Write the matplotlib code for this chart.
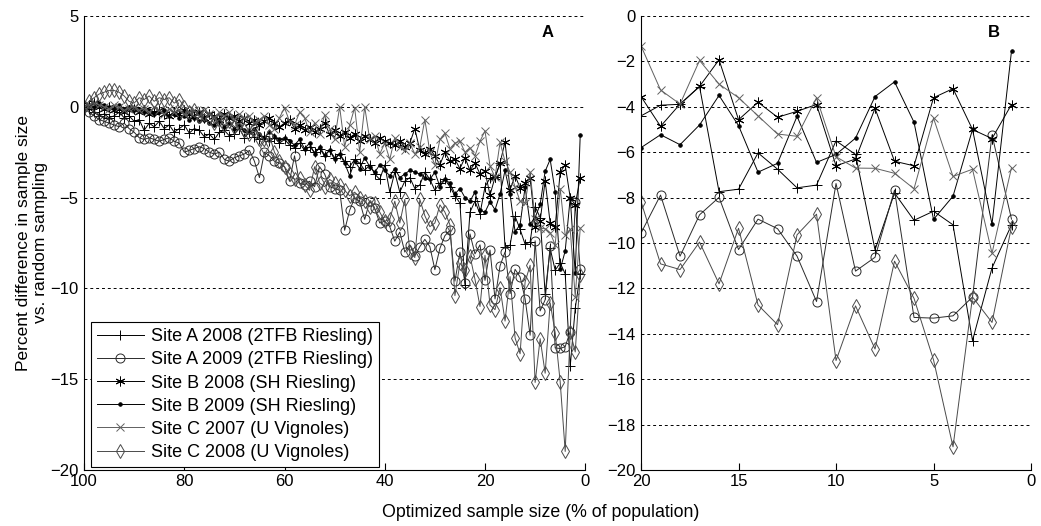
import numpy as np
import matplotlib.pyplot as plt

plt.rcParams['font.family'] = ['Liberation Sans', 'DejaVu Sans']

# optimized sample size (% of population)
size_wide = np.arange(100, 20, -1)   # 100 .. 21
size_zoom = np.arange(20, 0, -1)     # 20 .. 1

labels = ['Site A 2008 (2TFB Riesling)', 'Site A 2009 (2TFB Riesling)',
          'Site B 2008 (SH Riesling)', 'Site B 2009 (SH Riesling)',
          'Site C 2007 (U Vignoles)', 'Site C 2008 (U Vignoles)']

# percent difference vs. random sampling, sample sizes 100..21
a2008_wide = [0, -0.1, -0.3, -0.5, -0.4, -0.6, -0.5, -0.3, -0.6, -0.5,
              -0.8, -0.7, -1.3, -0.9, -1.1, -0.8, -1.2, -1.0, -1.4, -1.2,
              -1.0, -1.45, -1.2, -1.3, -1.65, -1.5, -1.8, -1.4, -1.3, -1.6,
              -1.5, -1.2, -1.7, -1.4, -1.65, -1.8, -1.6, -1.9, -1.7, -2.0,
              -1.8, -2.1, -2.25, -2.0, -2.4, -2.2, -2.5, -2.3, -2.7, -2.4,
              -2.8, -2.6, -3.0, -3.3, -2.9, -3.1, -3.5, -3.2, -3.7, -4.0,
              -3.2, -4.7, -3.6, -4.7, -4.1, -3.9, -4.5, -4.3, -3.6, -4.0,
              -4.6, -4.2, -4.0, -4.4, -4.9, -5.3, -9.8, -5.8, -5.2, -5.9]
a2009_wide = [0, -0.3, -0.5, -0.7, -0.8, -0.9, -1.0, -1.1, -0.9, -1.2,
              -1.4, -1.7, -1.8, -1.7, -1.8, -1.9, -1.8, -1.7, -1.9, -2.0,
              -2.5, -2.4, -2.3, -2.2, -2.3, -2.5, -2.6, -2.5, -2.9, -3.0,
              -2.8, -2.7, -2.6, -2.4, -3.0, -3.9, -2.5, -2.7, -3.0, -3.1,
              -3.3, -4.1, -2.7, -4.2, -4.3, -4.1, -4.4, -3.3, -3.7, -4.4,
              -4.5, -4.6, -6.8, -5.7, -5.0, -5.2, -6.2, -5.2, -5.6, -6.4,
              -6.3, -6.6, -7.4, -6.9, -8.0, -7.6, -8.2, -7.7, -7.3, -7.7,
              -8.97, -7.8, -7.1, -6.8, -9.6, -8.0, -9.7, -7.0, -8.1, -7.6]
b2008_wide = [0, 0.1, 0.2, 0.0, -0.1, 0.0, -0.2, -0.1, -0.3, -0.2,
              -0.1, -0.3, -0.2, -0.4, -0.3, -0.2, -0.4, -0.5, -0.3, -0.4,
              -0.2, -0.4, -0.5, -0.3, -0.6, -0.4, -0.5, -0.7, -0.4, -0.6,
              -0.5, -0.8, -0.6, -0.9, -0.7, -1.0, -0.8, -0.6, -0.9, -1.1,
              -0.9, -0.7, -1.2, -1.0, -1.3, -1.1, -1.4, -1.2, -0.9, -1.5,
              -1.3, -1.6, -1.4, -1.7, -1.5, -1.9, -1.6, -1.8, -2.0, -1.7,
              -1.9, -2.0, -2.1, -1.9, -2.2, -2.0, -1.2, -2.4, -2.6, -2.3,
              -2.7, -3.2, -2.5, -3.0, -2.9, -3.4, -2.8, -3.5, -3.1, -3.7]
b2009_wide = [0, 0.1, 0.0, 0.2, 0.1, 0.0, -0.1, 0.1, -0.1, 0.0,
              -0.2, -0.1, -0.3, -0.2, -0.4, -0.3, -0.2, -0.5, -0.4, -0.6,
              -0.5, -0.7, -0.6, -0.8, -0.7, -0.9, -1.0, -0.8, -1.1, -0.9,
              -1.2, -1.0, -1.3, -1.4, -1.2, -1.5, -1.7, -1.4, -1.6, -1.8,
              -1.7, -1.9, -2.1, -1.8, -2.3, -2.0, -2.6, -2.2, -2.65, -2.4,
              -2.9, -2.6, -3.1, -3.8, -3.0, -3.4, -2.8, -3.3, -3.6, -3.2,
              -3.5, -3.8, -3.4, -3.9, -3.7, -3.5, -3.6, -3.7, -3.9, -4.0,
              -3.6, -4.4, -4.0, -4.2, -4.8, -4.5, -5.0, -5.2, -4.7, -5.7]
c2007_wide = [0, 0.1, 0.2, 0.1, 0.0, -0.1, 0.1, 0.0, -0.2, -0.1,
              0.0, -0.2, -0.1, -0.3, 0.0, -0.2, -0.4, -0.1, -0.3, -0.2,
              -0.4, -0.3, -0.2, -0.5, -0.2, -0.4, -0.6, -0.3, -0.5, -0.3,
              -0.7, -0.4, -0.6, -0.5, -0.9, -0.7, -0.5, -1.0, -1.2, -0.6,
              -0.05, -0.8, -1.0, -0.3, -0.6, -1.4, -0.9, -1.5, -0.45, -1.2,
              -1.8, 0.0, -2.2, -1.0, -0.05, -2.5, 0.0, -1.8, -1.6, -2.6,
              -2.0, -2.9, -1.7, -2.2, -2.4, -2.0, -2.6, -2.2, -0.7, -2.5,
              -3.2, -1.8, -1.45, -2.3, -2.0, -1.9, -2.5, -2.25, -2.7, -1.9]
c2008_wide = [0, 0.3, 0.5, 0.7, 0.8, 0.9, 0.9, 0.8, 0.6, 0.3,
              0.2, 0.5, 0.4, 0.6, 0.3, 0.5, 0.4, 0.5, 0.2, 0.4,
              0.0, -0.3, -0.2, -0.5, -0.4, -0.6, -0.9, -0.7, -1.0, -0.8,
              -1.1, -0.9, -1.3, -1.5, -1.2, -1.8, -2.2, -1.6, -2.5, -3.0,
              -3.3, -3.7, -4.0, -3.9, -4.3, -4.6, -3.3, -4.2, -4.4, -4.0,
              -4.2, -4.3, -4.6, -4.9, -4.7, -5.0, -5.2, -5.5, -5.3, -5.8,
              -6.3, -6.2, -5.2, -6.4, -5.1, -8.0, -8.3, -5.1, -6.0, -6.6,
              -6.4, -5.4, -5.8, -6.5, -10.4, -8.6, -9.0, -8.2, -9.5, -11.0]

# sample sizes 20..1 (shown in both panels)
a2008_zoom = [-4.4, -3.93, -3.89, -3.11, -7.74, -7.63, -6.03, -6.75, -7.57, -7.45,
              -5.5, -6.1, -10.3, -7.8, -9.0, -8.6, -9.2, -14.3, -11.1, -9.2]
a2009_zoom = [-9.56, -7.89, -10.58, -8.76, -7.99, -10.29, -8.95, -9.37, -10.58, -12.58,
              -7.38, -11.24, -10.63, -7.67, -13.28, -13.31, -13.21, -12.38, -5.24, -8.95]
b2008_zoom = [-3.55, -4.86, -3.88, -3.1, -1.93, -4.57, -3.8, -4.46, -4.2, -3.9,
              -6.6, -6.3, -4.07, -6.4, -6.6, -3.6, -3.2, -5.0, -5.4, -3.9]
b2009_zoom = [-5.8, -5.23, -5.67, -4.8, -3.5, -4.83, -6.88, -6.49, -4.42, -6.45,
              -6.1, -5.38, -3.55, -2.9, -4.68, -8.96, -7.94, -5.0, -9.17, -1.54]
c2007_zoom = [-1.32, -3.26, -3.88, -1.96, -3.0, -3.6, -4.4, -5.2, -5.3, -3.6,
              -6.2, -6.7, -6.71, -6.93, -7.61, -4.5, -7.07, -6.75, -10.45, -6.68]
c2008_zoom = [-8.18, -10.92, -11.17, -9.96, -11.8, -9.35, -12.73, -13.6, -9.64, -8.73,
              -15.18, -12.77, -14.67, -10.8, -12.44, -15.15, -18.98, -12.38, -13.5, -9.28]

wide = [a2008_wide, a2009_wide, b2008_wide, b2009_wide, c2007_wide, c2008_wide]
zoom = [a2008_zoom, a2009_zoom, b2008_zoom, b2009_zoom, c2007_zoom, c2008_zoom]

styles = [
    dict(marker='+', ms=7, color='#000000'),
    dict(marker='o', ms=6.5, color='#2a2a2a', mfc='none'),
    dict(marker=(6, 2, 0), ms=7, color='#000000'),
    dict(marker='.', ms=5, color='#000000'),
    dict(marker='x', ms=6, color='#606060'),
    dict(marker='d', ms=7, color='#4a4a4a', mfc='none'),
]

fig = plt.figure(figsize=(10.41, 5.26), dpi=100)
ax_a = fig.add_axes([0.0807, 0.1065, 0.4815, 0.8631])
ax_b = fig.add_axes([0.6158, 0.1065, 0.3746, 0.8631])

for ys_w, ys_z, lab, st in zip(wide, zoom, labels, styles):
    x_all = np.concatenate([size_wide, size_zoom])
    y_all = list(ys_w) + list(ys_z)
    ax_a.plot(x_all, y_all, lw=0.7, mew=0.7, label=lab, **st)
    ax_b.plot(size_zoom, ys_z, lw=0.7, mew=0.7, **st)


def style_axis(ax, xlim, xticks, ylim, yticks):
    ax.set_xlim(*xlim)
    ax.set_ylim(*ylim)
    ax.set_xticks(xticks)
    ax.set_yticks(yticks)
    ax.spines['top'].set_visible(False)
    ax.spines['right'].set_visible(False)
    ax.spines['left'].set_linewidth(0.8)
    ax.spines['bottom'].set_linewidth(0.8)
    ax.tick_params(direction='in', length=5, width=0.8, labelsize=12, pad=3)
    ax.tick_params(axis='y', length=0, pad=4)
    for y in yticks:
        ax.axhline(y, color='black', lw=0.7, ls=(0, (3, 3)), zorder=0)


style_axis(ax_a, (100, 0), [100, 80, 60, 40, 20, 0], (-20, 5), [-20, -15, -10, -5, 0, 5])
style_axis(ax_b, (20, 0), [20, 15, 10, 5, 0], (-20, 0), list(range(-20, 1, 2)))

ax_a.text(0.925, 0.963, 'A', transform=ax_a.transAxes, fontsize=12, fontweight='bold',
          ha='center', va='center')
ax_b.text(0.905, 0.963, 'B', transform=ax_b.transAxes, fontsize=12, fontweight='bold',
          ha='center', va='center')

ax_a.set_ylabel('Percent difference in sample size\nvs. random sampling', fontsize=12.5)
ax_a.yaxis.set_label_coords(-0.072, 0.5)
fig.text(0.519, 0.025, 'Optimized sample size (% of population)', fontsize=12.8,
         ha='center', va='center')

leg = ax_a.legend(loc='lower left', bbox_to_anchor=(0.013, 0.006), borderaxespad=0,
                  fontsize=13, handlelength=2.6, labelspacing=0.34, handletextpad=0.4,
                  borderpad=0.35, fancybox=False, framealpha=1)
leg.get_frame().set_edgecolor('black')
leg.get_frame().set_linewidth(0.8)

fig.savefig('out.png', dpi=100)
